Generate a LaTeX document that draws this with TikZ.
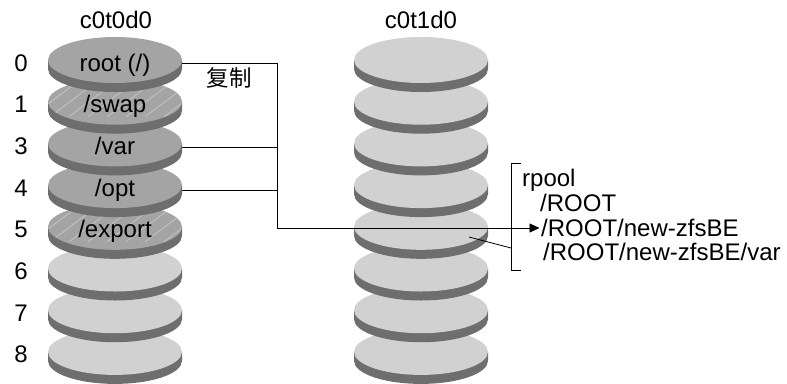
\documentclass[tikz,border=0pt]{standalone}
\usepackage{fontspec}
\setmainfont{Liberation Sans}
\newfontfamily\cjkfont{Noto Sans CJK SC}
\usetikzlibrary{positioning,arrows.meta}
\definecolor{DiskDark}{HTML}{A4A4A4}
\definecolor{DiskLight}{HTML}{D1D1D1}
\definecolor{DiskRim}{HTML}{6E6E71}
\definecolor{HatchGray}{HTML}{C2C2C2}
\tikzset{
  disklabel/.style={font=\fontsize{24}{26}\selectfont, inner sep=0pt, anchor=base},
  pathlabel/.style={font=\fontsize{24}{26}\selectfont, inner sep=0pt, anchor=base west},
  wire/.style={line width=0.8pt},
}

\begin{document}
\begin{tikzpicture}[x=1pt, y=-1pt]
  \useasboundingbox (0,0) rectangle (787,383);

  % disks, lowest first so the upper ones lie on top
  \foreach \p/\col/\hatched in {7/DiskLight/0,6/DiskLight/0,5/DiskLight/0,4/DiskDark/1,3/DiskDark/0,2/DiskDark/0,1/DiskDark/1,0/DiskDark/0}{
    % c0t1d0
    \begin{scope}[shift={(421,60+41.7*\p)}]
      \fill[DiskRim] (-67,0) -- (-67,9) arc[start angle=180, end angle=360, x radius=67pt, y radius=23pt] -- (67,0) -- cycle;
      \fill[DiskLight] (0,0) ellipse[x radius=67pt, y radius=23pt];
    \end{scope}
    % c0t0d0
    \begin{scope}[shift={(115,60+41.7*\p)}]
      \fill[DiskRim] (-67,0) -- (-67,9) arc[start angle=180, end angle=360, x radius=67pt, y radius=23pt] -- (67,0) -- cycle;
      \fill[\col] (0,0) ellipse[x radius=67pt, y radius=23pt];
      \ifnum\hatched=1
        \begin{scope}
          \clip (0,0) ellipse[x radius=67pt, y radius=23pt];
          \foreach \h in {-140,-121,...,140}
            \draw[HatchGray, line width=0.9pt] (\h-20,15) -- (\h+20,-15);
        \end{scope}
      \fi
    \end{scope}
  }

  % titles
  \node[disklabel] (LeftTitle) at (116,28) {c0t0d0};
  \node[disklabel] (RightTitle) at (421,28) {c0t1d0};

  % slice numbers and file systems
  \foreach \p/\n in {0/0,1/1,2/3,3/4,4/5,5/6,6/7,7/8}
    \node[disklabel] (Slice\n) at (21,71+41.7*\p) {\n};
  \node[disklabel] (RootName) at (115,71) {root (/)};
  \node[disklabel] (SwapName) at (115,112.7) {/swap};
  \node[disklabel] (VarName) at (115,154.4) {/var};
  \node[disklabel] (OptName) at (115,196.1) {/opt};
  \node[disklabel] (ExportName) at (115,237.8) {/export};

  % rpool datasets
  \node[pathlabel] (PoolName) at (522,186) {rpool};
  \node[pathlabel] (RootSet) at (540,211) {/ROOT};
  \node[pathlabel] (NewBEName) at (541,236) {/ROOT/new-zfsBE};
  \node[pathlabel] (NewBEVar) at (543,260) {/ROOT/new-zfsBE/var};

  % copy
  \node[font=\cjkfont\fontsize{22.5}{24}\selectfont, inner sep=0pt] (CopyLabel) at (229,78) {复制};
  \coordinate (RootEdge) at (182,63);
  \coordinate (VarEdge) at (182,147);
  \coordinate (OptEdge) at (182,190);
  \coordinate (CopyTop) at (277,63);
  \coordinate (CopyCorner) at (277,228);
  \draw[wire] (RootEdge) -- (CopyTop) -- (CopyCorner);
  \draw[wire] (VarEdge) -- (VarEdge -| CopyTop);
  \draw[wire] (OptEdge) -- (OptEdge -| CopyTop);
  \draw[wire, -{Triangle[length=10pt, width=9pt]}, shorten >=1.5pt] (CopyCorner) -- (CopyCorner -| NewBEName.west);

  % bracket
  \coordinate (BracketTop) at (511,163);
  \coordinate (BracketBottom) at (511,270);
  \coordinate (BracketMid) at (511,248);
  \coordinate (DiskPoint) at (469,237);
  \draw[wire] ([xshift=10pt]BracketTop) -- (BracketTop) -- (BracketBottom) -- ([xshift=10pt]BracketBottom);
  \draw[wire] (DiskPoint) -- (BracketMid);
\end{tikzpicture}
\end{document}
